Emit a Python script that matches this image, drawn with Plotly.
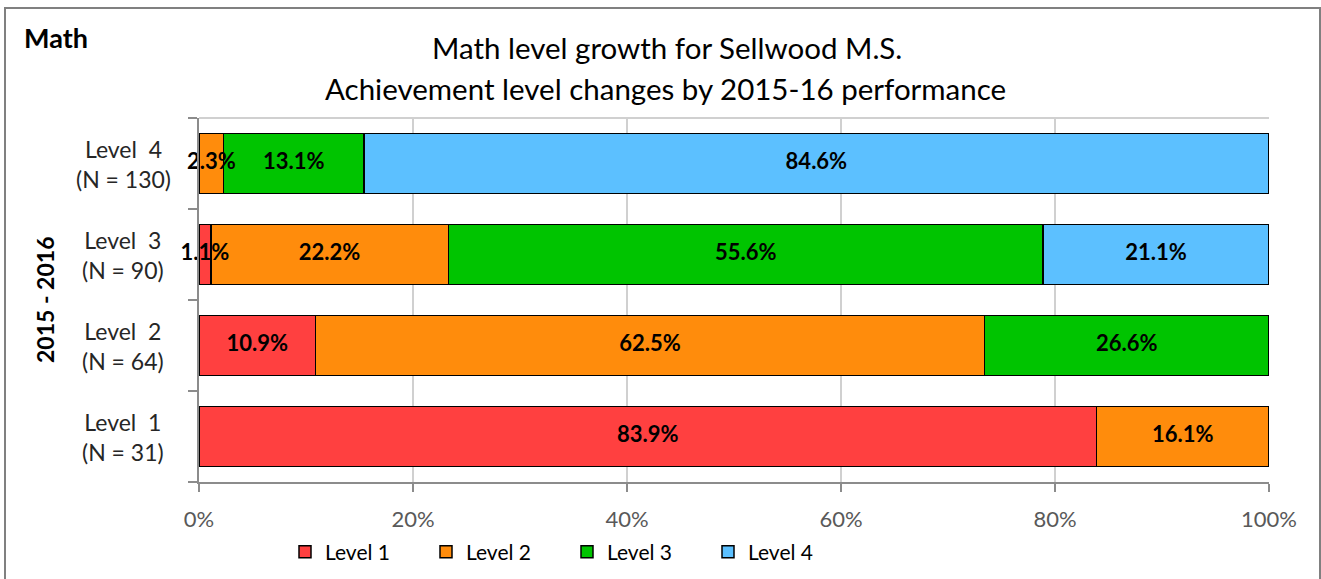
import plotly.graph_objects as go

categories = ["Level 1", "Level 2", "Level 3", "Level 4"]
category_labels = ["Level \u00a01<br>(N = 31)", "Level \u00a02<br>(N = 64)",
                   "Level \u00a03<br>(N = 90)", "Level \u00a04<br>(N = 130)"]
series_names = ["Level 1", "Level 2", "Level 3", "Level 4"]
level1 = [83.9, 10.9, 1.1, None]
level2 = [16.1, 62.5, 22.2, 2.3]
level3 = [None, 26.6, 55.6, 13.1]
level4 = [None, None, 21.1, 84.6]
colors = ["#FF4040", "#FF8C0C", "#00C400", "#5CC0FF"]
x_ticks = [0, 20, 40, 60, 80, 100]

FONT = "Lato, 'Open Sans', sans-serif"

# page-pixel helpers (plot area: x 199..1269, y 118..482)
def px_x(p):
    return (p - 199) / 1070

def px_y(p):
    return (482 - p) / 364

fig = go.Figure()
all_series = [level1, level2, level3, level4]
for name, vals, col in zip(series_names, all_series, colors):
    fig.add_trace(go.Bar(
        y=categories, x=vals, name=name, orientation="h",
        marker=dict(color=col, line=dict(color="#000000", width=1.5)),
        hoverinfo="skip",
    ))

# data labels drawn on top of all bars (centre of each stacked segment)
lab_x, lab_y, lab_t = [], [], []
for i, cat in enumerate(categories):
    start = 0.0
    for vals in all_series:
        v = vals[i]
        if v:
            lab_x.append(start + v / 2)
            lab_y.append(cat)
            lab_t.append(f"{v:.1f}%")
            start += v
fig.add_trace(go.Scatter(
    x=lab_x, y=lab_y, text=lab_t, mode="text", textposition="middle center",
    textfont=dict(family=FONT, size=22, color="#000000", weight="bold"),
    showlegend=False, hoverinfo="skip", cliponaxis=False,
))

fig.update_layout(
    width=1321, height=579,
    barmode="stack", bargap=0.34,
    paper_bgcolor="white", plot_bgcolor="white",
    margin=dict(l=199, r=52, t=118, b=97, autoexpand=False),
    font=dict(family=FONT, color="#262626"),
    showlegend=True,
    legend=dict(orientation="h", x=px_x(285), y=px_y(552), xanchor="left", yanchor="middle",
                entrywidth=96, entrywidthmode="pixels", itemwidth=30,
                font=dict(family=FONT, size=21, color="#000000"),
                traceorder="normal"),
    xaxis=dict(range=[0, 100], tickvals=x_ticks, ticktext=[f"{t}%" for t in x_ticks],
               showgrid=True, gridcolor="#D0D0D0", gridwidth=2,
               showline=True, linecolor="#8C8C8C", linewidth=2,
               ticks="outside", ticklen=8, tickwidth=2, tickcolor="#8C8C8C",
               ticklabelstandoff=9,
               tickfont=dict(family=FONT, size=22, color="#595959"),
               zeroline=False, fixedrange=True, automargin=False),
    yaxis=dict(categoryorder="array", categoryarray=categories,
               showgrid=False, showline=True, linecolor="#8C8C8C", linewidth=2,
               ticks="outside", ticklen=9, tickwidth=2, tickcolor="#8C8C8C",
               tickson="boundaries", showticklabels=False,
               fixedrange=True, automargin=False),
)

# category labels, centred like the original
for cat, lab in zip(categories, category_labels):
    fig.add_annotation(text=lab, xref="paper", yref="y", x=px_x(123), y=cat,
                       showarrow=False, xanchor="center", yanchor="middle", align="center",
                       font=dict(family=FONT, size=23, color="#262626"))

# plot-area top border
fig.add_shape(type="line", xref="paper", yref="paper", x0=0, x1=1, y0=1, y1=1,
              line=dict(color="#D0D0D0", width=2), layer="below")
# outer chart border
fig.add_shape(type="rect", xref="paper", yref="paper",
              x0=px_x(5), x1=px_x(1320), y0=-0.5, y1=px_y(8),
              line=dict(color="#808080", width=2), layer="below")

fig.add_annotation(text="Math level growth for Sellwood M.S.", xref="paper", yref="paper",
                   x=px_x(667), y=px_y(47), showarrow=False,
                   xanchor="center", yanchor="middle",
                   font=dict(family=FONT, size=29.5, color="#000000"))
fig.add_annotation(text="Achievement level changes by 2015-16 performance", xref="paper", yref="paper",
                   x=px_x(665), y=px_y(88), showarrow=False,
                   xanchor="center", yanchor="middle",
                   font=dict(family=FONT, size=29.5, color="#000000"))
fig.add_annotation(text="<b>Math</b>", xref="paper", yref="paper",
                   x=px_x(22), y=px_y(38), showarrow=False,
                   xanchor="left", yanchor="middle",
                   font=dict(family=FONT, size=27, color="#000000"))
fig.add_annotation(text="<b>2015 - 2016</b>", xref="paper", yref="paper",
                   x=px_x(45), y=0.5, showarrow=False, textangle=-90,
                   xanchor="center", yanchor="middle",
                   font=dict(family=FONT, size=23, color="#000000"))

fig.write_html("out.html", config={"displayModeBar": False},
               post_script="document.body.style.margin='0';")
